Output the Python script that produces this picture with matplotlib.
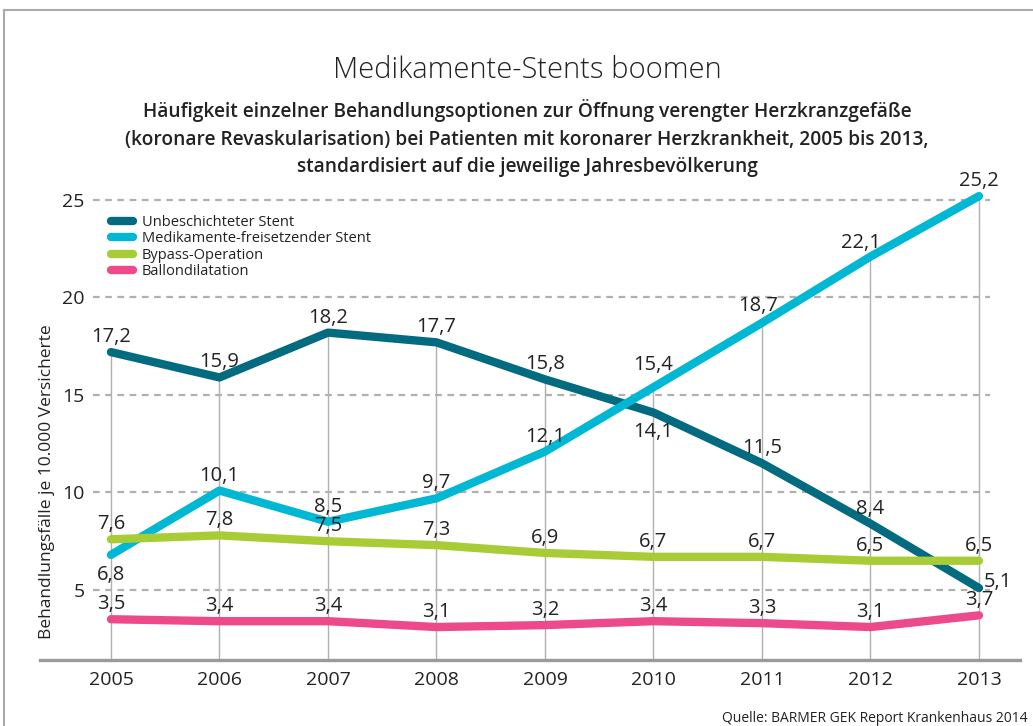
import matplotlib.pyplot as plt

years = [2005, 2006, 2007, 2008, 2009, 2010, 2011, 2012, 2013]
unbeschichtet = [17.2, 15.9, 18.2, 17.7, 15.8, 14.1, 11.5, 8.4, 5.1]
medikamente = [6.8, 10.1, 8.5, 9.7, 12.1, 15.4, 18.7, 22.1, 25.2]
bypass = [7.6, 7.8, 7.5, 7.3, 6.9, 6.7, 6.7, 6.5, 6.5]
ballon = [3.5, 3.4, 3.4, 3.1, 3.2, 3.4, 3.3, 3.1, 3.7]
series_names = ["Unbeschichteter Stent", "Medikamente-freisetzender Stent",
                "Bypass-Operation", "Ballondilatation"]
yticks = [5, 10, 15, 20, 25]

colors = ["#036b80", "#00b8d4", "#a8cc36", "#ec4a8a"]
txt = "#222222"
plt.rcParams['font.family'] = ['Open Sans', 'DejaVu Sans']

fig = plt.figure(figsize=(10.33, 7.26), dpi=100)
ax = fig.add_axes([40/1033, 1-660/726, 980/1033, 479.5/726])
ax.set_xlim(2004.346, 2013.378)
ax.set_ylim(1.41, 26)

# frame of the infographic
fig.add_artist(plt.Line2D([4/1033, 4/1033], [-0.1, 1-10/726], color="#aaaaaa", lw=1.5))
fig.add_artist(plt.Line2D([4/1033, 1.1], [1-10/726, 1-10/726], color="#aaaaaa", lw=1.5))

# grid + vertical year lines
ax.hlines(yticks, 2004.83, 2013.1, colors="#b0b0b0", lw=1.6, linestyles=(0, (3, 2.5)), zorder=1)
tops = [max(v) for v in zip(unbeschichtet, medikamente, bypass, ballon)]
ax.vlines(years, 1.41, tops, colors="#b0b0b0", lw=1, zorder=1)

all_series = [unbeschichtet, medikamente, bypass, ballon]
handles = []
for vals, c, name in zip(all_series, colors, series_names):
    h, = ax.plot(years, vals, color=c, lw=6, solid_capstyle="round",
                 solid_joinstyle="round", label=name, zorder=3)
    handles.append(h)

# value labels (offsets in pixels)
special = {(0, 5): (0, -19), (0, 8): (19, 6), (1, 0): (0, -20),
           (1, 5): (0, 22), (1, 7): (-10, 14), (1, 6): (-4, 17)}
for si, vals in enumerate(all_series):
    for i, (x, v) in enumerate(zip(years, vals)):
        dx, dy = special.get((si, i), (0, 15))
        ax.annotate(f"{v:.1f}".replace(".", ","), (x, v), xytext=(dx, dy),
                    textcoords="offset pixels", ha="center", va="center",
                    fontsize=14.5, color=txt, zorder=4)

for s in ["left", "right", "top"]:
    ax.spines[s].set_visible(False)
ax.spines["bottom"].set_color("#9a9a9a")
ax.spines["bottom"].set_linewidth(2.4)
ax.set_xticks(years)
ax.set_xticklabels([str(y) for y in years], fontsize=14, color=txt)
ax.set_yticks(yticks)
ax.set_yticklabels([str(t) for t in yticks], fontsize=14, color=txt)
ax.tick_params(axis="x", length=0, pad=8)
ax.tick_params(axis="y", length=0, pad=-32)

leg = ax.legend(handles=handles, loc="upper left", bbox_to_anchor=(104/1033, 1-208/726),
                bbox_transform=fig.transFigure, frameon=False, fontsize=10.5,
                handlelength=1.5, handletextpad=0.6, labelspacing=0.08, borderpad=0)
for t in leg.get_texts():
    t.set_color(txt)

fig.text(47/1033, 1-482/726, "Behandlungsfälle je 10.000 Versicherte", rotation=90,
         ha="center", va="center", fontsize=12.5, color=txt)

fig.text(527/1033, 1-70/726, "Medikamente-Stents boomen", ha="center", va="center",
         fontsize=21, fontweight="light", color=txt)
fig.text(527/1033, 1-138/726,
         "Häufigkeit einzelner Behandlungsoptionen zur Öffnung verengter Herzkranzgefäße\n"
         "(koronare Revaskularisation) bei Patienten mit koronarer Herzkrankheit, 2005 bis 2013,\n"
         "standardisiert auf die jeweilige Jahresbevölkerung",
         ha="center", va="center", fontsize=13.8, fontweight="semibold", color=txt,
         linespacing=1.5)
fig.text(722/1033, 1-718/726, "Quelle: BARMER GEK Report Krankenhaus 2014",
         ha="left", va="center", fontsize=10, color=txt)

fig.savefig("out.png", dpi=100, facecolor="white")
